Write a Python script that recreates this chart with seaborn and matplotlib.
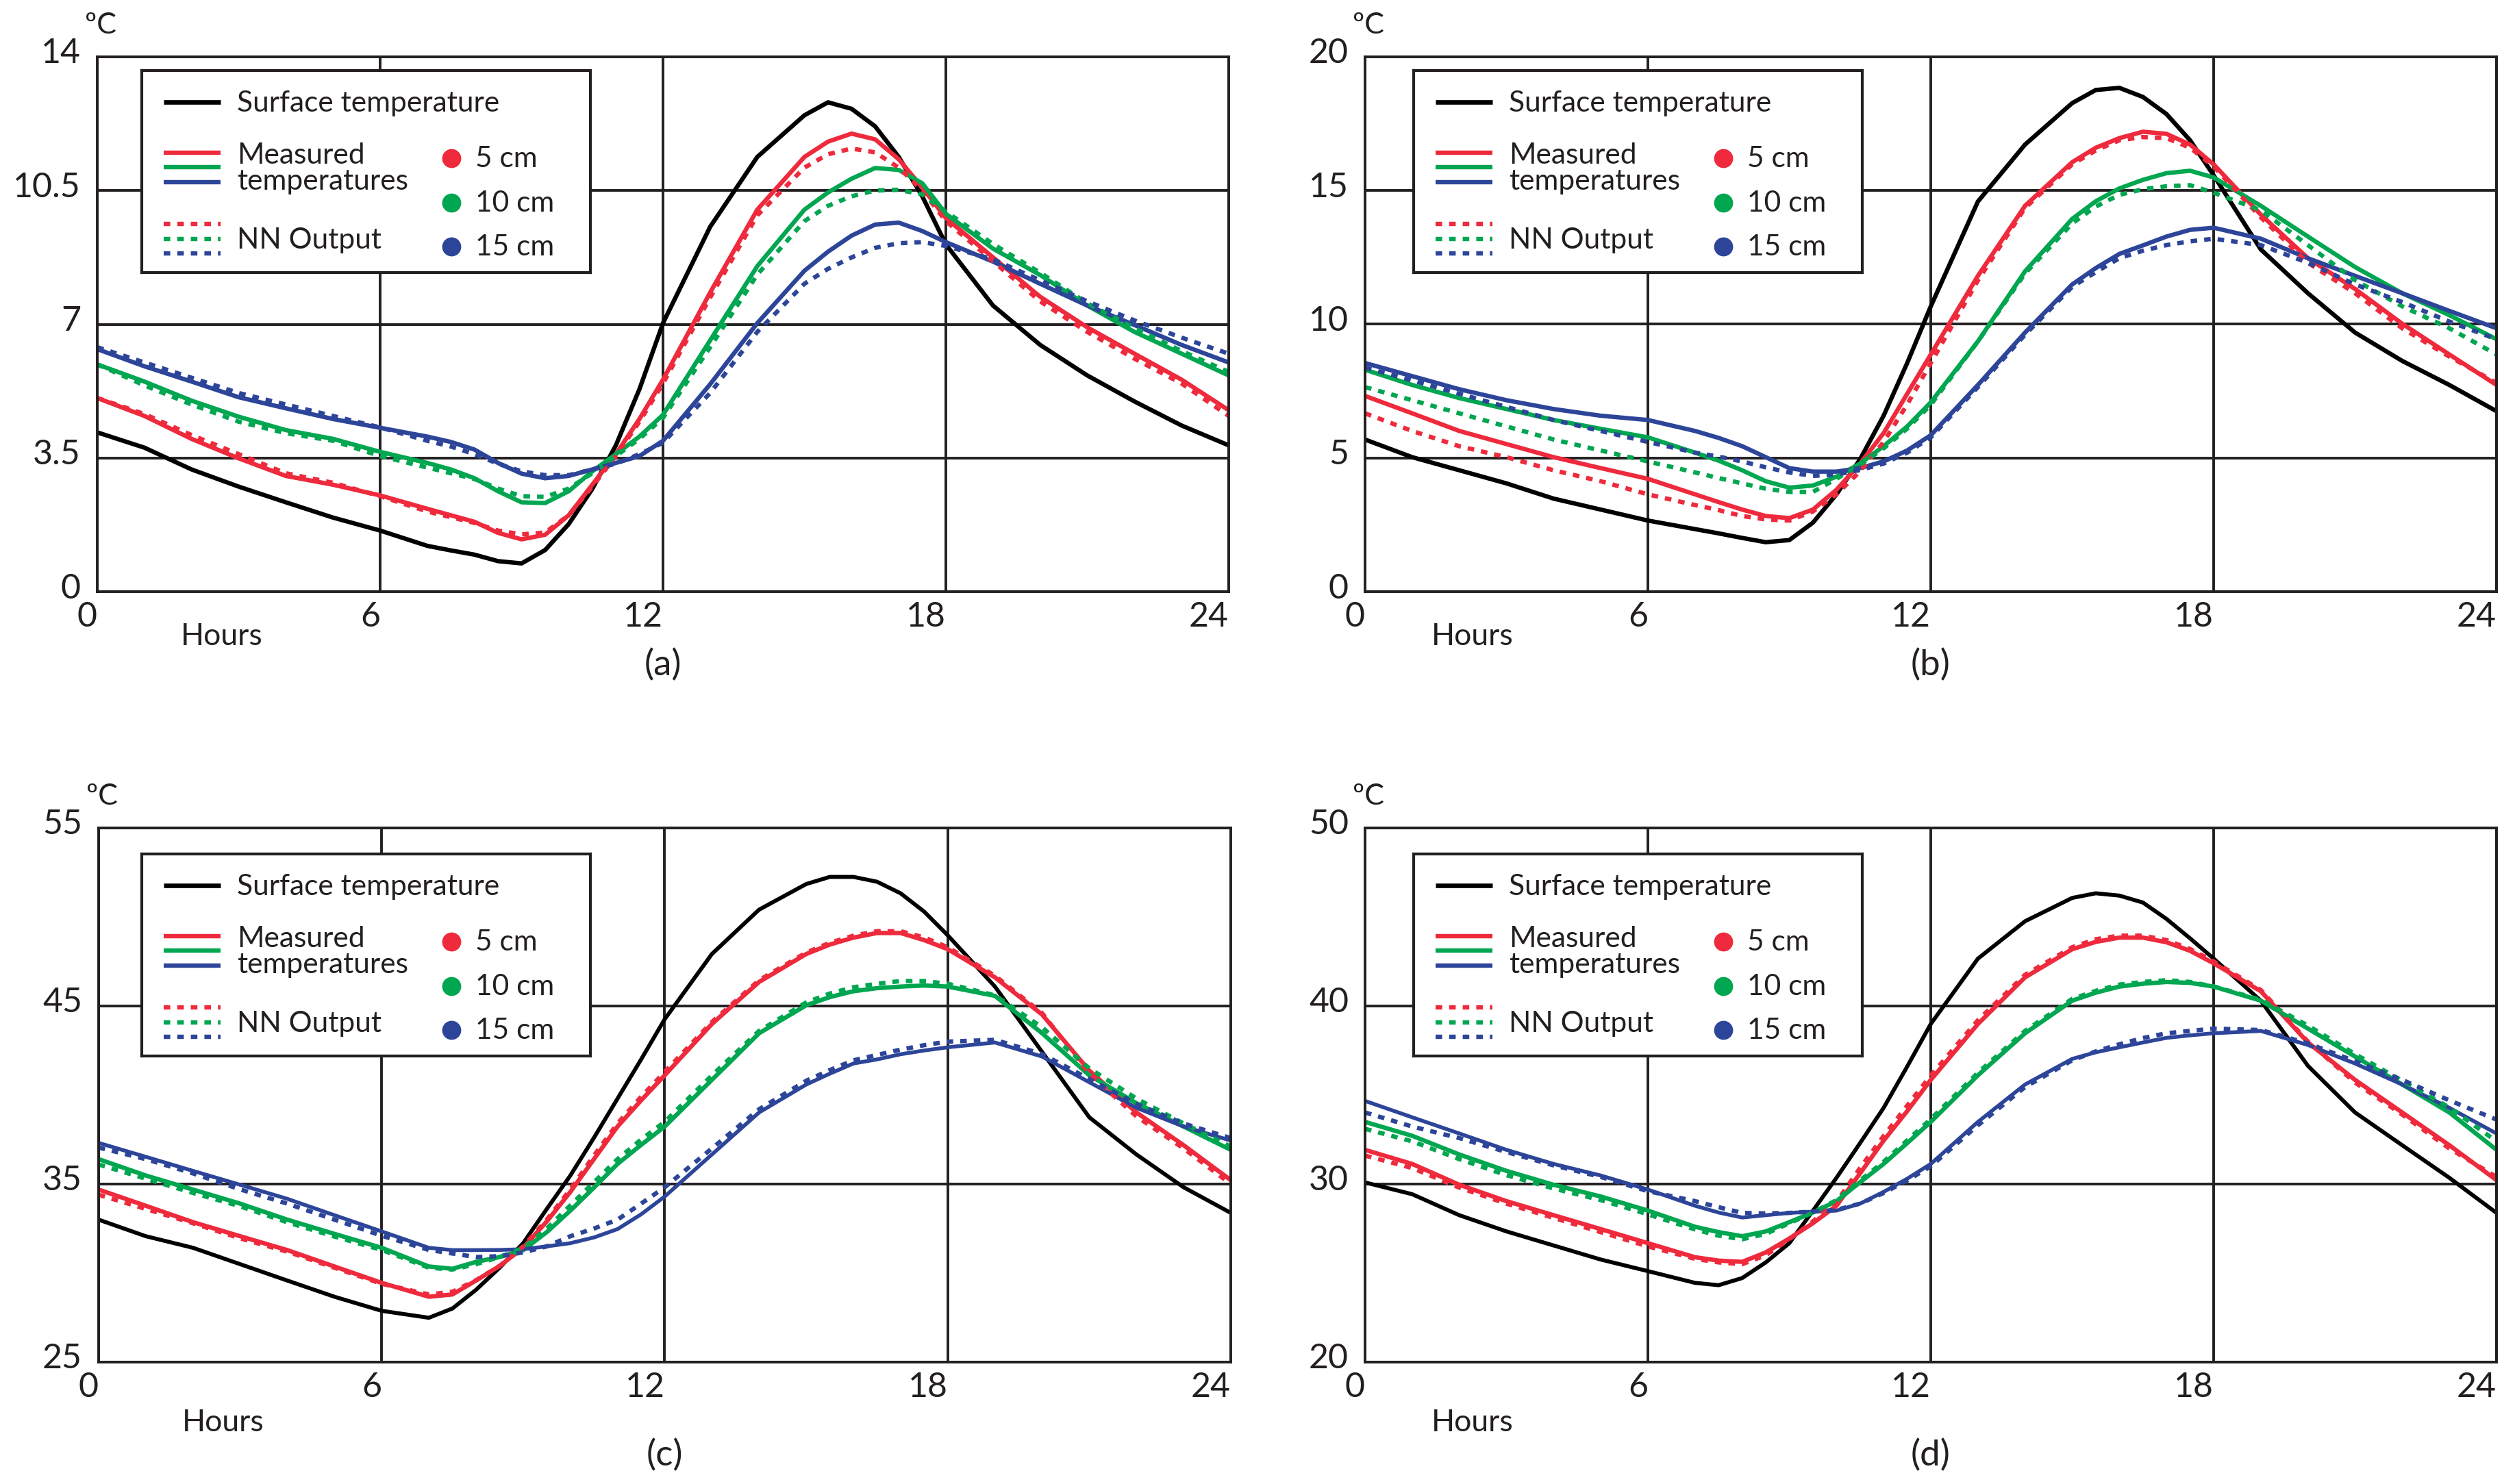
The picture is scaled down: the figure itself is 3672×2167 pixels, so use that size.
import matplotlib
matplotlib.use("Agg")
import matplotlib.pyplot as plt
import matplotlib.transforms as mtransforms
import pandas as pd
import seaborn as sns

# ---------------- data ----------------
HOURS = [0, 1, 2, 3, 4, 5, 6, 7, 7.5, 8, 8.5, 9, 9.5, 10, 10.5, 11, 11.5, 12,
         13, 14, 15, 15.5, 16, 16.5, 17, 17.5, 18, 19, 20, 21, 22, 23, 24]
X_TICKS = [0, 6, 12, 18, 24]
X_TICK_LABELS = ["0", "6", "12", "18", "24"]

# panel (a)
A_YTICKS = [0, 3.5, 7, 10.5, 14]
A_YLABELS = ["0", "3.5", "7", "10.5", "14"]
A_SURF = [4.17, 3.77, 3.2, 2.75, 2.34, 1.94, 1.6, 1.2, 1.08, 0.97, 0.8, 0.74, 1.09, 1.77, 2.69, 3.83, 5.3, 7.03,
          9.55, 11.38, 12.47, 12.81, 12.64, 12.18, 11.38, 10.35, 9.09, 7.49, 6.46, 5.66, 4.98, 4.35, 3.83]
A_RED = [5.07, 4.6, 4.0, 3.49, 3.03, 2.8, 2.52, 2.17, 2.0, 1.83, 1.54, 1.37, 1.49, 2.0, 2.8, 3.6, 4.52, 5.55,
         7.83, 10.0, 11.38, 11.78, 11.99, 11.84, 11.32, 10.58, 9.78, 8.75, 7.72, 6.92, 6.23, 5.55, 4.75]
A_RED_NN = [5.07, 4.65, 4.1, 3.6, 3.1, 2.85, 2.5, 2.1, 1.95, 1.8, 1.6, 1.5, 1.55, 2.0, 2.75, 3.55, 4.45, 5.45,
            7.7, 9.85, 11.1, 11.45, 11.6, 11.5, 11.1, 10.5, 9.7, 8.65, 7.6, 6.8, 6.1, 5.45, 4.6]
A_GREEN = [5.95, 5.5, 5.0, 4.58, 4.23, 4.0, 3.66, 3.37, 3.2, 2.97, 2.63, 2.34, 2.32, 2.63, 3.15, 3.6, 4.06, 4.63,
           6.58, 8.52, 10.0, 10.45, 10.81, 11.09, 11.04, 10.69, 9.89, 8.98, 8.29, 7.49, 6.8, 6.23, 5.66]
A_GREEN_NN = [5.95, 5.4, 4.9, 4.45, 4.15, 3.95, 3.55, 3.25, 3.1, 2.95, 2.7, 2.5, 2.48, 2.7, 3.1, 3.55, 4.0, 4.55,
              6.4, 8.3, 9.7, 10.1, 10.35, 10.5, 10.52, 10.4, 9.95, 9.1, 8.35, 7.55, 6.9, 6.3, 5.75]
A_BLUE = [6.35, 5.9, 5.5, 5.09, 4.8, 4.52, 4.29, 4.06, 3.92, 3.72, 3.37, 3.09, 2.97, 3.03, 3.2, 3.37, 3.55, 3.95,
          5.43, 7.03, 8.4, 8.9, 9.32, 9.61, 9.66, 9.44, 9.15, 8.64, 8.06, 7.49, 6.98, 6.46, 6.0]
A_BLUE_NN = [6.4, 6.0, 5.6, 5.2, 4.9, 4.6, 4.3, 3.95, 3.8, 3.6, 3.35, 3.15, 3.05, 3.05, 3.2, 3.35, 3.6, 3.9,
             5.2, 6.8, 8.06, 8.45, 8.75, 9.0, 9.12, 9.15, 9.05, 8.7, 8.15, 7.6, 7.1, 6.65, 6.23]

# panel (b)
B_YTICKS = [0, 5, 10, 15, 20]
B_YLABELS = ["0", "5", "10", "15", "20"]
B_SURF = [5.69, 5.03, 4.54, 4.05, 3.48, 3.07, 2.66, 2.34, 2.18, 2.01, 1.85, 1.93, 2.58, 3.64, 4.95, 6.58, 8.55, 10.67,
          14.59, 16.72, 18.27, 18.76, 18.84, 18.5, 17.86, 16.88, 15.57, 12.8, 11.16, 9.69, 8.63, 7.73, 6.75]
B_RED = [7.32, 6.67, 6.01, 5.52, 5.03, 4.62, 4.22, 3.64, 3.35, 3.07, 2.83, 2.75, 3.07, 3.81, 4.79, 5.93, 7.4, 8.87,
         11.81, 14.43, 16.06, 16.6, 16.96, 17.2, 17.12, 16.72, 15.98, 14.1, 12.47, 11.32, 10.02, 8.87, 7.73]
B_RED_NN = [6.67, 6.01, 5.44, 5.03, 4.54, 4.13, 3.64, 3.24, 3.05, 2.83, 2.7, 2.66, 3.0, 3.64, 4.5, 5.6, 7.0, 8.55,
            11.64, 14.35, 15.98, 16.5, 16.88, 17.0, 16.96, 16.6, 15.9, 14.0, 12.3, 11.16, 9.85, 8.79, 7.81]
B_GREEN = [8.3, 7.73, 7.24, 6.83, 6.42, 6.09, 5.77, 5.2, 4.9, 4.54, 4.13, 3.89, 3.97, 4.3, 4.79, 5.44, 6.18, 7.08,
           9.36, 11.98, 13.94, 14.6, 15.08, 15.4, 15.65, 15.74, 15.49, 14.43, 13.28, 12.14, 11.16, 10.34, 9.44]
B_GREEN_NN = [7.65, 7.16, 6.67, 6.18, 5.69, 5.28, 4.87, 4.46, 4.25, 4.05, 3.85, 3.73, 3.73, 4.22, 4.75, 5.36, 6.1, 6.99,
              9.36, 11.9, 13.77, 14.4, 14.84, 15.05, 15.16, 15.2, 14.92, 14.26, 12.96, 11.65, 10.67, 9.85, 8.87]
B_BLUE = [8.55, 8.06, 7.57, 7.16, 6.83, 6.58, 6.42, 6.01, 5.75, 5.44, 5.03, 4.62, 4.49, 4.49, 4.62, 4.87, 5.28, 5.85,
          7.73, 9.69, 11.49, 12.1, 12.63, 12.95, 13.28, 13.53, 13.61, 13.2, 12.47, 11.81, 11.16, 10.5, 9.85]
B_BLUE_NN = [8.38, 7.9, 7.4, 6.91, 6.42, 6.01, 5.6, 5.2, 5.05, 4.87, 4.65, 4.46, 4.33, 4.38, 4.55, 4.79, 5.2, 5.77,
             7.65, 9.61, 11.4, 11.95, 12.47, 12.75, 12.96, 13.1, 13.2, 12.96, 12.3, 11.49, 10.83, 10.1, 9.44]

# panel (c)
C_YTICKS = [25, 35, 45, 55]
C_YLABELS = ["25", "35", "45", "55"]
C_SURF = [33.0, 32.07, 31.42, 30.5, 29.58, 28.67, 27.88, 27.49, 28.01, 29.06, 30.3, 31.68, 33.6, 35.48, 37.6, 39.8, 42.0, 44.26,
          47.92, 50.41, 51.85, 52.25, 52.25, 51.98, 51.33, 50.3, 48.97, 46.09, 42.42, 38.75, 36.66, 34.82, 33.38]
C_RED = [34.69, 33.78, 32.86, 32.07, 31.29, 30.37, 29.45, 28.67, 28.8, 29.58, 30.4, 31.42, 32.9, 34.56, 36.4, 38.23, 39.7, 41.11,
         43.99, 46.35, 47.92, 48.45, 48.84, 49.1, 49.1, 48.7, 48.19, 46.61, 44.52, 41.37, 39.02, 37.18, 35.22]
C_RED_NN = [34.4, 33.6, 32.8, 31.95, 31.2, 30.3, 29.4, 28.8, 28.95, 29.6, 30.4, 31.5, 33.0, 34.7, 36.6, 38.4, 39.9, 41.3,
            44.1, 46.45, 48.0, 48.55, 48.95, 49.2, 49.2, 48.85, 48.3, 46.7, 44.6, 41.2, 38.8, 37.0, 35.0]
C_GREEN = [36.4, 35.48, 34.69, 33.9, 33.0, 32.2, 31.42, 30.37, 30.24, 30.63, 30.9, 31.29, 32.3, 33.51, 34.8, 36.13, 37.2, 38.23,
           40.85, 43.47, 45.04, 45.5, 45.83, 46.0, 46.09, 46.15, 46.09, 45.57, 43.47, 41.11, 39.54, 38.23, 36.92]
C_GREEN_NN = [36.1, 35.3, 34.5, 33.75, 32.85, 32.05, 31.3, 30.3, 30.2, 30.5, 30.9, 31.4, 32.5, 33.8, 35.1, 36.4, 37.5, 38.5,
              41.1, 43.6, 45.2, 45.7, 46.05, 46.25, 46.4, 46.4, 46.25, 45.6, 43.8, 41.5, 39.8, 38.4, 37.1]
C_BLUE = [37.31, 36.53, 35.74, 34.96, 34.17, 33.25, 32.34, 31.42, 31.29, 31.29, 31.3, 31.34, 31.5, 31.68, 32.0, 32.47, 33.3, 34.3,
          36.66, 39.02, 40.59, 41.2, 41.77, 42.0, 42.29, 42.5, 42.68, 42.95, 42.16, 40.72, 39.28, 38.23, 37.44]
C_BLUE_NN = [37.05, 36.4, 35.6, 34.7, 33.9, 33.0, 32.1, 31.3, 31.1, 30.9, 30.95, 31.16, 31.5, 32.07, 32.5, 33.0, 33.9, 34.82,
             37.0, 39.2, 40.8, 41.4, 41.95, 42.25, 42.55, 42.8, 43.0, 43.1, 42.3, 40.9, 39.5, 38.4, 37.58]

# panel (d)
D_YTICKS = [20, 30, 40, 50]
D_YLABELS = ["20", "30", "40", "50"]
D_SURF = [30.09, 29.43, 28.25, 27.34, 26.55, 25.76, 25.11, 24.45, 24.32, 24.72, 25.6, 26.68, 28.5, 30.35, 32.3, 34.28, 36.6, 38.99,
          42.66, 44.76, 46.07, 46.33, 46.2, 45.81, 44.89, 43.8, 42.66, 40.3, 36.64, 34.02, 32.18, 30.35, 28.38]
D_RED = [31.92, 31.13, 29.96, 29.04, 28.25, 27.47, 26.68, 25.89, 25.7, 25.63, 26.16, 26.94, 27.8, 28.78, 30.6, 32.44, 34.1, 35.85,
         38.99, 41.61, 43.19, 43.6, 43.84, 43.84, 43.58, 43.1, 42.4, 40.83, 37.95, 35.85, 34.02, 32.18, 30.22]
D_RED_NN = [31.6, 30.9, 29.8, 28.9, 28.1, 27.3, 26.5, 25.8, 25.6, 25.5, 26.0, 26.9, 27.9, 29.0, 30.9, 32.7, 34.4, 36.1,
            39.2, 41.75, 43.3, 43.75, 43.95, 43.95, 43.7, 43.2, 42.5, 40.9, 38.0, 35.7, 33.9, 32.0, 30.4]
D_GREEN = [33.49, 32.71, 31.66, 30.74, 29.96, 29.3, 28.51, 27.6, 27.3, 27.07, 27.34, 27.86, 28.4, 29.04, 30.1, 31.13, 32.3, 33.49,
           36.11, 38.47, 40.3, 40.75, 41.09, 41.25, 41.35, 41.3, 41.09, 40.3, 38.73, 37.16, 35.59, 34.02, 31.92]
D_GREEN_NN = [33.1, 32.4, 31.4, 30.5, 29.75, 29.1, 28.3, 27.45, 27.1, 26.9, 27.2, 27.8, 28.4, 29.1, 30.2, 31.25, 32.45, 33.65,
              36.25, 38.6, 40.4, 40.85, 41.2, 41.35, 41.45, 41.35, 41.1, 40.35, 38.9, 37.3, 35.8, 34.3, 32.4]
D_BLUE = [34.67, 33.75, 32.84, 31.92, 31.13, 30.48, 29.69, 28.78, 28.4, 28.12, 28.25, 28.38, 28.45, 28.51, 28.9, 29.56, 30.3, 31.13,
          33.49, 35.59, 37.03, 37.4, 37.68, 37.95, 38.21, 38.35, 38.47, 38.6, 37.81, 36.77, 35.59, 34.28, 32.84]
D_BLUE_NN = [34.02, 33.23, 32.58, 31.8, 31.05, 30.4, 29.6, 29.04, 28.7, 28.38, 28.35, 28.38, 28.45, 28.55, 28.9, 29.5, 30.2, 31.0,
             33.3, 35.45, 36.95, 37.45, 37.85, 38.2, 38.47, 38.6, 38.73, 38.65, 37.9, 36.9, 35.85, 34.7, 33.62]

PANEL_LABELS = ["(a)", "(b)", "(c)", "(d)"]
LEGEND_SURFACE = "Surface temperature"
LEGEND_MEASURED = ["Measured", "temperatures"]
LEGEND_NN = "NN Output"
DEPTH_LABELS = ["5 cm", "10 cm", "15 cm"]
UNIT = "\u00baC"
XLABEL = "Hours"

# ---------------- style ----------------
sns.set_theme(style="white")
plt.rcParams["font.family"] = ["Lato", "DejaVu Sans"]
INK = "#231F20"
RED = "#EE2A3C"
GREEN = "#00A650"
BLUE = "#2D4599"
DOT = (0, (1.5, 1.6))

W, H, DPI = 3673, 2167, 200
PX = 72.0 / DPI  # points per pixel

fig = plt.figure(figsize=(W / DPI, H / DPI), dpi=DPI, facecolor="white")

# axes boxes in pixels (left, top, right, bottom)
BOXES = [(142, 83, 1794, 864), (1993, 83, 3645, 864),
         (144, 1209, 1797, 1989), (1993, 1209, 3645, 1989)]
LEG_OFF = [(65, 20), (71, 20), (63, 38), (71, 38)]
HOURS_X = [182, 157, 182, 157]
HOURS_Y = [66, 66, 89, 89]
PLABEL_Y = [107, 107, 136, 136]

PANELS = [
    (A_YTICKS, A_YLABELS, A_SURF, A_RED, A_GREEN, A_BLUE, A_RED_NN, A_GREEN_NN, A_BLUE_NN),
    (B_YTICKS, B_YLABELS, B_SURF, B_RED, B_GREEN, B_BLUE, B_RED_NN, B_GREEN_NN, B_BLUE_NN),
    (C_YTICKS, C_YLABELS, C_SURF, C_RED, C_GREEN, C_BLUE, C_RED_NN, C_GREEN_NN, C_BLUE_NN),
    (D_YTICKS, D_YLABELS, D_SURF, D_RED, D_GREEN, D_BLUE, D_RED_NN, D_GREEN_NN, D_BLUE_NN),
]

LEG_W, LEG_H = 655, 295


def draw_legend(ax, axw, axh, offx, offy):
    leg = ax.inset_axes([offx / axw, 1 - (offy + LEG_H) / axh, LEG_W / axw, LEG_H / axh])
    leg.set_xlim(0, LEG_W)
    leg.set_ylim(LEG_H, 0)
    leg.set_xticks([])
    leg.set_yticks([])
    leg.set_facecolor("white")
    leg.set_zorder(6)
    for sp in leg.spines.values():
        sp.set_visible(True)
        sp.set_linewidth(1.5)
        sp.set_color(INK)
    x0, x1 = 32, 115
    leg.plot([x0, x1], [46, 46], color="black", lw=2.4, solid_capstyle="butt")
    leg.text(139, 60, LEGEND_SURFACE, fontsize=15.3, color=INK, va="baseline")
    for yy, c in zip([120, 141, 163], [RED, GREEN, BLUE]):
        leg.plot([x0, x1], [yy, yy], color=c, lw=2.3, solid_capstyle="butt")
    leg.text(139, 136, LEGEND_MEASURED[0], fontsize=15.3, color=INK, va="baseline")
    leg.text(139, 174, LEGEND_MEASURED[1], fontsize=15.3, color=INK, va="baseline")
    for yy, c in zip([224, 246, 267], [RED, GREEN, BLUE]):
        leg.plot([x0, x1], [yy, yy], color=c, lw=2.3, linestyle=DOT, dash_capstyle="butt")
    leg.text(139, 260, LEGEND_NN, fontsize=15.3, color=INK, va="baseline")
    for yy, c, lab in zip([128, 193, 257], [RED, GREEN, BLUE], DEPTH_LABELS):
        leg.plot([452], [yy], marker="o", ms=10, color=c, mew=0, linestyle="none")
        leg.text(487, yy + 13, lab, fontsize=15.3, color=INK, va="baseline")


for i, panel in enumerate(PANELS):
    yt, yl, surf, red, green, blue, red_nn, green_nn, blue_nn = panel
    l, t, r, b = BOXES[i]
    axw, axh = r - l, b - t
    ax = fig.add_axes([l / W, 1 - b / H, axw / W, axh / H])

    series = [
        (surf, "black", "-", 2.3 if i < 2 else 2.1),
        (red, RED, "-", 2.3),
        (green, GREEN, "-", 2.3),
        (blue, BLUE, "-", 2.3 if i < 2 else 2.0),
        (red_nn, RED, DOT, 2.3),
        (green_nn, GREEN, DOT, 2.3),
        (blue_nn, BLUE, DOT, 2.3),
    ]
    for vals, c, ls, lw in series:
        df = pd.DataFrame({"hour": HOURS, "temp": vals})
        sns.lineplot(data=df, x="hour", y="temp", ax=ax, color=c, linestyle=ls,
                     linewidth=lw, errorbar=None, estimator=None, sort=False)

    ax.set_xlim(X_TICKS[0], X_TICKS[-1])
    ax.set_ylim(yt[0], yt[-1])
    ax.set_xticks(X_TICKS)
    ax.set_xticklabels(X_TICK_LABELS, ha="right")
    ax.set_yticks(yt)
    ax.set_yticklabels(yl)
    ax.set_xlabel("")
    ax.set_ylabel("")
    ax.tick_params(axis="both", length=0, labelsize=18, labelcolor=INK)
    ax.tick_params(axis="y", pad=24 * PX)
    ax.tick_params(axis="x", pad=14 * PX)
    ax.grid(True, color=INK, linewidth=1.4)
    ax.set_axisbelow(True)
    for sp in ax.spines.values():
        sp.set_visible(True)
        sp.set_color(INK)
        sp.set_linewidth(1.4)
        sp.set_zorder(5)

    lift = mtransforms.ScaledTranslation(0, 9 / DPI, fig.dpi_scale_trans)
    for lab in ax.get_yticklabels():
        lab.set_transform(lab.get_transform() + lift)

    ax.annotate(UNIT, xy=(0, 1), xycoords="axes fraction", xytext=(5 * PX, 46 * PX),
                textcoords="offset points", ha="center", va="center", fontsize=15.5, color=INK)
    ax.annotate(XLABEL, xy=(0, 0), xycoords="axes fraction", xytext=(HOURS_X[i] * PX, -HOURS_Y[i] * PX),
                textcoords="offset points", ha="center", va="center", fontsize=16, color=INK)
    ax.annotate(PANEL_LABELS[i], xy=(0.5, 0), xycoords="axes fraction", xytext=(0, -PLABEL_Y[i] * PX),
                textcoords="offset points", ha="center", va="center", fontsize=19, color=INK)

    draw_legend(ax, axw, axh, *LEG_OFF[i])

fig.savefig("out.png", dpi=DPI, facecolor="white")
